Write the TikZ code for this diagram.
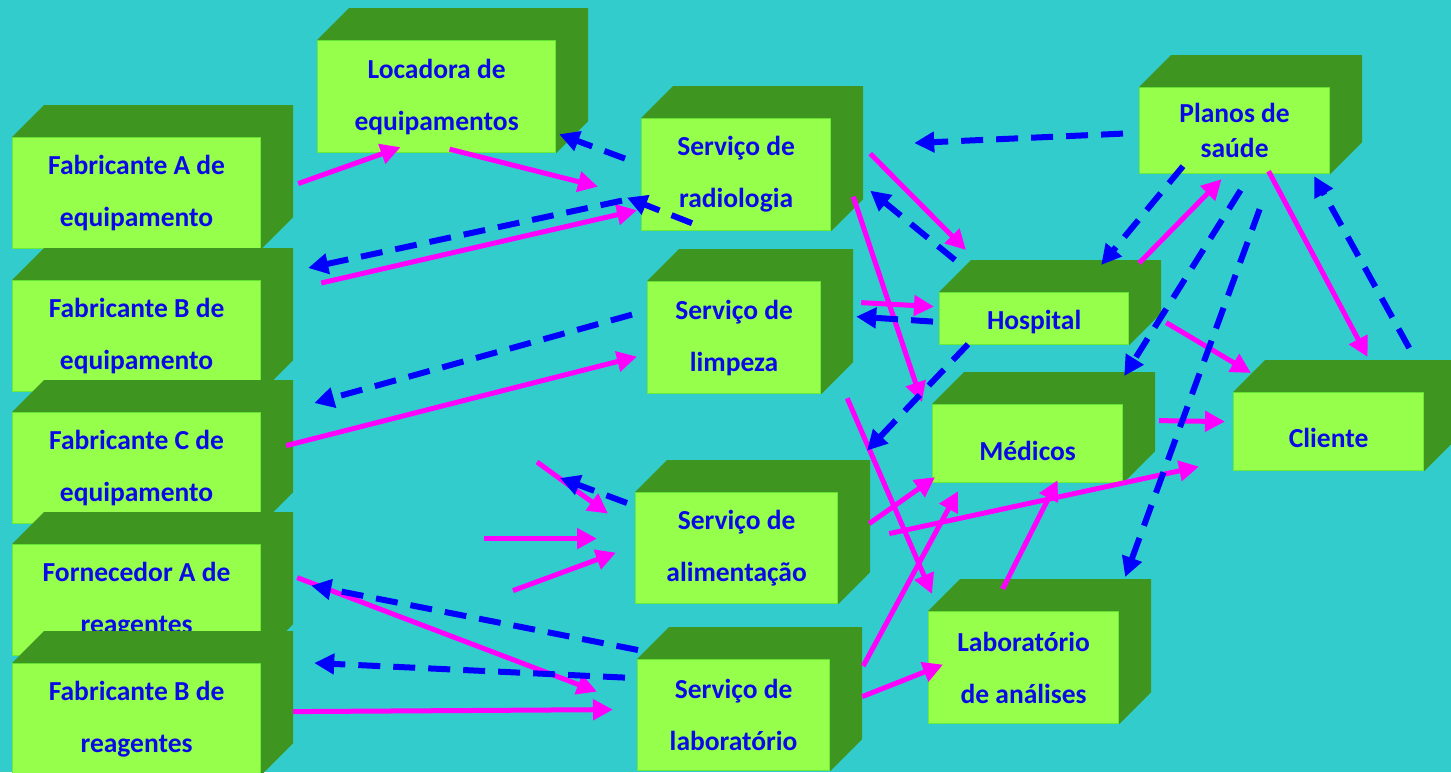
\documentclass[tikz,border=0pt]{standalone}
\usepackage{fontspec}
\setmainfont{Carlito}
\usepackage{tikz}
\usetikzlibrary{arrows.meta, calc}

\definecolor{fundo}{RGB}{51,204,204}
\definecolor{frente}{RGB}{150,255,75}
\definecolor{borda}{RGB}{105,235,55}
\definecolor{lado}{RGB}{62,150,33}
\definecolor{texto}{RGB}{10,10,230}
\definecolor{rosa}{RGB}{255,0,255}
\definecolor{azul}{RGB}{0,0,255}

\begin{document}
\begin{tikzpicture}[
    x=1pt, y=-1pt,
    cubo/.style 2 args={rectangle, fill=frente, draw=borda, line width=1.2pt, text=texto, anchor=north west, minimum width=#1, minimum height=#2, inner sep=0pt, align=center, font=\fontsize{27.5}{52}\selectfont\bfseries},
    fluxo/.style={draw=rosa, line width=5pt, -{Triangle[length=20pt,width=20pt]}},
    retorno/.style={draw=azul, line width=6pt, dash pattern=on 22pt off 13pt, -{Triangle[length=20pt,width=20pt]}}
]

% Background
\useasboundingbox (0,0) rectangle (1451,772);
\fill[fundo] (0,0) rectangle (1451,772);

% Suppliers (left column)
\node[cubo={248pt}{111pt}] (fabA) at (12,137) {Fabricante A de\\equipamento};
\node[cubo={248pt}{111pt}] (fabB) at (12,280) {Fabricante B de\\equipamento};
\node[cubo={248pt}{111pt}] (fabC) at (12,412) {Fabricante C de\\equipamento};
\node[cubo={248pt}{111pt}] (fornA) at (12,544) {Fornecedor A de\\reagentes};
\node[cubo={248pt}{111pt}] (fabBr) at (12,663) {Fabricante B de\\reagentes};

% Services
\node[cubo={238pt}{112pt}] (locadora) at (317,40) {Locadora de\\equipamentos};
\node[cubo={189pt}{112pt}] (radio) at (641,118) {Serviço de\\radiologia};
\node[cubo={173pt}{112pt}] (limpeza) at (647,281) {Serviço de\\limpeza};
\node[cubo={202pt}{111pt}] (alim) at (635,492) {Serviço de\\alimentação};
\node[cubo={192pt}{111pt}] (labserv) at (637,659) {Serviço de\\laboratório};

% Care side
\node[cubo={190pt}{86pt}, font=\fontsize{27.5}{35}\selectfont\bfseries] (planos) at (1139,87) {Planos de\\saúde};
\node[cubo={189pt}{52pt}] (hospital) at (939,292) {\raisebox{-3pt}[\height][\depth]{Hospital}};
\node[cubo={190pt}{78pt}] (medicos) at (932,404) {\raisebox{-7pt}[\height][\depth]{Médicos}};
\node[cubo={190pt}{78pt}] (cliente) at (1233,392) {\raisebox{-6pt}[\height][\depth]{Cliente}};
\node[cubo={190pt}{112pt}] (labana) at (928,611) {Laboratório\\de análises};

% 3D top and side faces
\foreach \c in {fabA,fabB,fabC,fornA,fabBr,locadora,radio,limpeza,alim,labserv,planos,hospital,medicos,cliente,labana}
  \fill[lado] (\c.north west) -- ++(32pt,32pt) -| ($(\c.south east)+(32pt,32pt)$) -- (\c.south east) -- (\c.north east) -- cycle;

% Flows (solid)
\draw[fluxo] ([shift={(37,-9.5)}]fabA.east) -- ([shift={(-36,-6)}]locadora.south);
\draw[fluxo] ([shift={(13,-4)}]locadora.south) -- ([shift={(-43,12)}]radio.west);
\draw[fluxo] ([shift={(60,3)}]fabB.north east) -- ([shift={(-4,-21)}]radio.south west);
\draw[fluxo] ([shift={(25,-22.5)}]fabC.east) -- ([shift={(-10,19)}]limpeza.west);
\draw[fluxo] ([shift={(39,-21)}]radio.east) -- ([shift={(27,-42)}]hospital.north west);
\draw[fluxo] ([shift={(22,22)}]radio.east) -- ([shift={(-10,-2)}]medicos.north west);
\draw[fluxo] ([shift={(40,-35)}]limpeza.east) -- ([shift={(-5,-12)}]hospital.west);
\draw[fluxo] ([shift={(10,-29)}]hospital.north east) -- ([shift={(-13,5)}]planos.south);
\draw[fluxo] ([shift={(34,-3)}]planos.south) -- ([shift={(39,-35)}]cliente.north);
\draw[fluxo] ([shift={(37,4)}]hospital.east) -- ([shift={(18,-19)}]cliente.north west);
\draw[fluxo] ([shift={(36,-23)}]medicos.east) -- ([shift={(-8,-10)}]cliente.west);
\draw[fluxo] ([shift={(51,-14.5)}]alim.east) -- ([shift={(-34,35)}]cliente.west);
\draw[fluxo] ([shift={(31,-24.5)}]alim.east) -- ([shift={(3,-6)}]medicos.south west);
\draw[fluxo] ([shift={(33,7)}]labserv.north east) -- ([shift={(26,8)}]medicos.south west);
\draw[fluxo] ([shift={(-21,-22)}]labana.north) -- ([shift={(30,-3)}]medicos.south);
\draw[fluxo] ([shift={(26,4)}]limpeza.south east) -- ([shift={(4,-17)}]labana.north west);
\draw[fluxo] ([shift={(32,-18.5)}]labserv.east) -- ([shift={(15,-3)}]labana.west);
\draw[fluxo] ([shift={(-98,-30)}]alim.north west) -- ([shift={(-27,-34.5)}]alim.west);
\draw[fluxo] ([shift={(-151,-9.5)}]alim.west) -- ([shift={(-38,-9.5)}]alim.west);
\draw[fluxo] ([shift={(-122,42.5)}]alim.west) -- ([shift={(-19,4.5)}]alim.west);
\draw[fluxo] ([shift={(36,-22.5)}]fornA.east) -- ([shift={(-40,-23.5)}]labserv.west);
\draw[fluxo] ([shift={(32,-7.5)}]fabBr.east) -- ([shift={(-24,-5.5)}]labserv.west);

% Returns (dashed)
\draw[retorno] ([shift={(-16,-16)}]radio.west) -- ([shift={(3,-19)}]locadora.south east);
\draw[retorno] ([shift={(51,-8)}]radio.south west) -- ([shift={(-14,23)}]radio.west);
\draw[retorno] ([shift={(-19,26)}]radio.west) -- ([shift={(47,-12)}]fabB.north east);
\draw[retorno] ([shift={(-15,-23)}]limpeza.west) -- ([shift={(53,-9)}]fabC.north east);
\draw[retorno] ([shift={(16,-32)}]hospital.north west) -- ([shift={(39,16)}]radio.east);
\draw[retorno] ([shift={(-6,3)}]hospital.west) -- ([shift={(35,-21)}]limpeza.east);
\draw[retorno] ([shift={(-16,3)}]planos.west) -- ([shift={(83,25)}]radio.north east);
\draw[retorno] ([shift={(44,-8)}]planos.south west) -- ([shift={(-28,-27)}]hospital.north east);
\draw[retorno] ([shift={(6,16)}]planos.south) -- ([shift={(1,-28)}]medicos.north east);
\draw[retorno] ([shift={(25,35)}]planos.south) -- ([shift={(6,-34)}]labana.north east);
\draw[retorno] ([shift={(-15,-44)}]cliente.north east) -- ([shift={(-16,2)}]planos.south east);
\draw[retorno] ([shift={(29,-1)}]hospital.south west) -- ([shift={(-65,7)}]medicos.west);
\draw[retorno] ([shift={(-8,11)}]alim.north west) -- ([shift={(-75,-14)}]alim.north west);
\draw[retorno] ([shift={(1,-9)}]labserv.north west) -- ([shift={(50,-14.5)}]fornA.east);
\draw[retorno] ([shift={(-12,-37.5)}]labserv.west) -- ([shift={(53,0)}]fabBr.north east);

\end{tikzpicture}
\end{document}
